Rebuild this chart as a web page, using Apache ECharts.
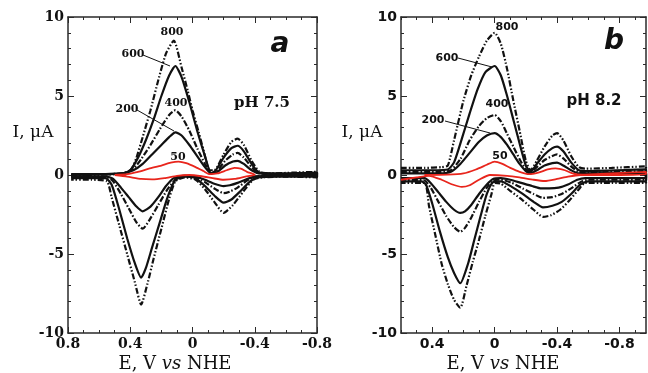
<!DOCTYPE html>
<html>
<head>
<meta charset="utf-8" />
<title>CV pH 7.5 / 8.2</title>
<script src="https://cdn.jsdelivr.net/npm/echarts@6/dist/echarts.min.js"></script>
</head>
<body style="margin:0">
<div id="main" style="width:648px;height:373px;"></div>
<script type="text/javascript">
// tick positions (V) and current ticks
var xMajorA = [0.8, 0.4, 0, -0.4, -0.8];
var xMinorA = [0.8, 0.7, 0.6, 0.5, 0.4, 0.3, 0.2, 0.1, 0, -0.1, -0.2, -0.3, -0.4, -0.5, -0.6, -0.7, -0.8];
var xMajorB = [0.4, 0, -0.4, -0.8];
var xMinorB = [0.6, 0.5, 0.4, 0.3, 0.2, 0.1, 0, -0.1, -0.2, -0.3, -0.4, -0.5, -0.6, -0.7, -0.8, -0.9];

// panel a, pH 7.5 : [E, I] loops, upper branch then return branch
var a800 = [[0.78,-0.05],[0.65,0.0],[0.5,0.05],[0.42,0.1],[0.39,0.4],[0.36,1.1],[0.32,2.4],[0.27,4.1],[0.22,6.0],[0.17,7.7],[0.12,8.5],[0.07,6.8],[0.03,5.3],[0.0,4.1],[-0.04,2.7],[-0.07,1.6],[-0.11,0.3],[-0.14,0.3],[-0.2,1.3],[-0.25,2.1],[-0.29,2.3],[-0.33,1.9],[-0.38,0.9],[-0.43,0.2],[-0.5,0.1],[-0.65,0.15],[-0.8,0.2],
  [-0.8,-0.15],[-0.6,-0.1],[-0.45,-0.15],[-0.39,-0.3],[-0.33,-1.0],[-0.26,-1.9],[-0.2,-2.4],[-0.14,-1.7],[-0.08,-0.9],[-0.02,-0.3],[0.05,-0.15],[0.11,-0.4],[0.15,-1.5],[0.2,-3.4],[0.25,-5.3],[0.29,-6.9],[0.33,-8.2],[0.37,-6.8],[0.42,-5.0],[0.47,-3.2],[0.52,-1.4],[0.55,-0.4],[0.65,-0.3],[0.78,-0.3]];
var a600 = [[0.78,0.0],[0.6,0.05],[0.45,0.1],[0.4,0.3],[0.35,1.1],[0.3,2.2],[0.25,3.5],[0.2,5.0],[0.15,6.3],[0.11,6.9],[0.07,6.2],[0.02,4.6],[-0.03,2.8],[-0.08,1.2],[-0.12,0.1],[-0.15,0.3],[-0.2,1.1],[-0.25,1.7],[-0.29,1.85],[-0.33,1.5],[-0.38,0.7],[-0.43,0.15],[-0.55,0.1],[-0.8,0.15],
  [-0.8,-0.1],[-0.55,-0.1],[-0.42,-0.15],[-0.37,-0.4],[-0.3,-1.1],[-0.25,-1.55],[-0.2,-1.75],[-0.14,-1.3],[-0.08,-0.7],[-0.02,-0.2],[0.05,-0.1],[0.11,-0.3],[0.16,-1.4],[0.21,-3.0],[0.26,-4.6],[0.3,-5.9],[0.33,-6.5],[0.37,-5.6],[0.42,-4.0],[0.47,-2.2],[0.52,-0.6],[0.56,-0.2],[0.78,-0.2]];
var a400 = [[0.78,0.0],[0.6,0.05],[0.45,0.1],[0.38,0.4],[0.33,1.0],[0.27,1.9],[0.21,2.9],[0.15,3.8],[0.11,4.1],[0.07,3.7],[0.02,2.8],[-0.03,1.7],[-0.08,0.7],[-0.12,0.1],[-0.16,0.3],[-0.21,0.9],[-0.26,1.3],[-0.29,1.4],[-0.33,1.1],[-0.38,0.5],[-0.43,0.1],[-0.55,0.05],[-0.8,0.1],
  [-0.8,-0.05],[-0.5,-0.05],[-0.4,-0.1],[-0.35,-0.35],[-0.29,-0.8],[-0.24,-1.05],[-0.2,-1.15],[-0.14,-0.85],[-0.08,-0.45],[-0.02,-0.15],[0.05,-0.05],[0.1,-0.2],[0.16,-0.9],[0.22,-1.9],[0.28,-2.9],[0.32,-3.4],[0.36,-3.0],[0.41,-2.1],[0.46,-1.2],[0.51,-0.4],[0.55,-0.15],[0.78,-0.15]];
var a200 = [[0.78,0.05],[0.6,0.05],[0.45,0.1],[0.38,0.3],[0.32,0.7],[0.26,1.3],[0.2,1.9],[0.15,2.4],[0.11,2.7],[0.07,2.5],[0.02,1.9],[-0.03,1.2],[-0.08,0.5],[-0.12,0.1],[-0.16,0.2],[-0.21,0.6],[-0.26,0.85],[-0.29,0.9],[-0.33,0.7],[-0.38,0.3],[-0.43,0.1],[-0.6,0.05],[-0.8,0.1],
  [-0.8,-0.05],[-0.5,-0.05],[-0.4,-0.1],[-0.35,-0.25],[-0.29,-0.5],[-0.24,-0.65],[-0.2,-0.7],[-0.14,-0.55],[-0.08,-0.3],[-0.02,-0.1],[0.06,-0.05],[0.12,-0.2],[0.17,-0.7],[0.22,-1.4],[0.27,-2.0],[0.32,-2.3],[0.36,-2.0],[0.41,-1.4],[0.46,-0.8],[0.51,-0.25],[0.55,-0.1],[0.78,-0.1]];
var a50 = [[0.5,0.0],[0.42,0.05],[0.35,0.2],[0.28,0.4],[0.2,0.6],[0.14,0.78],[0.09,0.85],[0.04,0.75],[-0.02,0.5],[-0.07,0.25],[-0.11,0.05],[-0.16,0.1],[-0.22,0.3],[-0.27,0.45],[-0.31,0.4],[-0.35,0.2],[-0.4,0.02],
  [-0.34,-0.1],[-0.27,-0.25],[-0.2,-0.3],[-0.13,-0.2],[-0.06,-0.08],[0.02,0.0],[0.1,-0.05],[0.18,-0.2],[0.26,-0.28],[0.33,-0.25],[0.42,-0.1],[0.5,0.0]];

// panel b, pH 8.2
var b800 = [[0.6,0.45],[0.45,0.45],[0.34,0.5],[0.3,0.6],[0.26,2.2],[0.2,4.7],[0.15,6.3],[0.1,7.5],[0.05,8.5],[0.0,9.0],[-0.04,8.3],[-0.08,6.7],[-0.12,4.7],[-0.16,2.8],[-0.2,0.9],[-0.23,0.3],[-0.27,0.9],[-0.32,1.8],[-0.37,2.5],[-0.4,2.65],[-0.44,2.2],[-0.49,1.2],[-0.54,0.5],[-0.58,0.4],[-0.75,0.45],[-0.97,0.55],
  [-0.97,-0.5],[-0.75,-0.5],[-0.58,-0.5],[-0.54,-0.9],[-0.48,-1.6],[-0.42,-2.2],[-0.36,-2.55],[-0.31,-2.65],[-0.25,-2.2],[-0.18,-1.6],[-0.1,-1.0],[-0.04,-0.55],[0.0,-0.5],[0.02,-1.2],[0.06,-2.6],[0.1,-4.1],[0.14,-5.5],[0.18,-7.0],[0.22,-8.4],[0.26,-7.9],[0.3,-6.9],[0.34,-5.6],[0.38,-3.8],[0.42,-2.0],[0.45,-0.5],[0.6,-0.5]];
var b600 = [[0.6,0.3],[0.4,0.3],[0.3,0.35],[0.26,0.8],[0.21,2.3],[0.16,3.9],[0.11,5.4],[0.06,6.5],[0.0,6.9],[-0.04,6.3],[-0.08,5.0],[-0.12,3.5],[-0.16,2.0],[-0.2,0.6],[-0.23,0.2],[-0.27,0.7],[-0.32,1.3],[-0.37,1.7],[-0.4,1.8],[-0.44,1.5],[-0.49,0.8],[-0.54,0.3],[-0.6,0.25],[-0.97,0.35],
  [-0.97,-0.4],[-0.6,-0.4],[-0.55,-0.6],[-0.49,-1.2],[-0.43,-1.7],[-0.37,-1.95],[-0.31,-2.05],[-0.25,-1.7],[-0.18,-1.2],[-0.11,-0.75],[-0.04,-0.4],[0.01,-0.45],[0.05,-1.2],[0.09,-2.6],[0.13,-4.1],[0.17,-5.6],[0.22,-6.85],[0.26,-6.2],[0.3,-5.2],[0.35,-3.6],[0.4,-1.8],[0.44,-0.6],[0.47,-0.4],[0.6,-0.4]];
var b400 = [[0.6,0.2],[0.35,0.2],[0.28,0.3],[0.22,1.0],[0.16,2.2],[0.1,3.1],[0.05,3.6],[0.0,3.8],[-0.04,3.4],[-0.08,2.6],[-0.12,1.8],[-0.16,1.0],[-0.2,0.35],[-0.23,0.15],[-0.27,0.5],[-0.32,0.95],[-0.37,1.2],[-0.4,1.3],[-0.44,1.05],[-0.49,0.55],[-0.54,0.2],[-0.6,0.15],[-0.97,0.25],
  [-0.97,-0.3],[-0.6,-0.3],[-0.55,-0.45],[-0.49,-0.85],[-0.43,-1.2],[-0.37,-1.4],[-0.31,-1.45],[-0.25,-1.2],[-0.18,-0.85],[-0.11,-0.5],[-0.04,-0.3],[0.01,-0.35],[0.05,-0.8],[0.1,-1.7],[0.15,-2.7],[0.19,-3.35],[0.22,-3.6],[0.26,-3.3],[0.31,-2.6],[0.36,-1.7],[0.41,-0.8],[0.45,-0.35],[0.6,-0.3]];
var b200 = [[0.6,0.1],[0.35,0.1],[0.28,0.2],[0.22,0.7],[0.16,1.4],[0.1,2.1],[0.05,2.5],[0.0,2.65],[-0.04,2.4],[-0.08,1.9],[-0.12,1.3],[-0.16,0.7],[-0.2,0.25],[-0.23,0.1],[-0.27,0.3],[-0.32,0.6],[-0.37,0.75],[-0.4,0.78],[-0.44,0.6],[-0.49,0.3],[-0.54,0.1],[-0.97,0.15],
  [-0.97,-0.2],[-0.58,-0.2],[-0.53,-0.3],[-0.47,-0.6],[-0.41,-0.8],[-0.35,-0.85],[-0.3,-0.85],[-0.24,-0.7],[-0.17,-0.5],[-0.1,-0.3],[-0.04,-0.2],[0.01,-0.25],[0.05,-0.6],[0.1,-1.2],[0.15,-1.9],[0.19,-2.3],[0.22,-2.4],[0.26,-2.2],[0.31,-1.7],[0.36,-1.1],[0.41,-0.5],[0.45,-0.2],[0.6,-0.2]];
var b50 = [[0.45,0.0],[0.3,0.02],[0.2,0.1],[0.12,0.35],[0.05,0.65],[0.0,0.85],[-0.05,0.7],[-0.1,0.45],[-0.16,0.2],[-0.22,0.05],[-0.28,0.15],[-0.34,0.35],[-0.39,0.42],[-0.45,0.3],[-0.5,0.1],[-0.56,0.02],[-0.75,0.1],[-0.97,0.2],
  [-0.97,0.05],[-0.75,0.0],[-0.55,0.0],[-0.47,-0.1],[-0.4,-0.25],[-0.32,-0.38],[-0.25,-0.3],[-0.16,-0.15],[-0.08,-0.05],[0.03,0.0],[0.1,-0.3],[0.16,-0.65],[0.21,-0.75],[0.27,-0.6],[0.34,-0.3],[0.42,-0.05],[0.5,-0.15],[0.6,-0.3]];

var myChart = echarts.init(document.getElementById('main'));

var SERIF = 'DejaVu Serif';
var SANS = 'DejaVu Sans';
var AX = '#2a2a2a';

function fmtE(v) {
    var r = Math.round(v * 10) / 10;
    return r === 0 ? '0' : String(r);
}

// four x axes per panel: bottom minor, bottom major (labels), top minor, top major
function xAxes(gi, min, max, majors, minors, font) {
    var base = { gridIndex: gi, type: 'value', inverse: true, min: min, max: max,
        splitLine: { show: false } };
    return [
        Object.assign({}, base, { position: 'bottom',
            axisLine: { show: true, onZero: false, lineStyle: { color: AX, width: 1.5 } },
            axisTick: { show: true, inside: true, length: 3, customValues: minors, lineStyle: { color: AX } },
            axisLabel: { show: false } }),
        Object.assign({}, base, { position: 'bottom',
            axisLine: { show: false, onZero: false },
            axisTick: { show: true, inside: true, length: 6, customValues: majors, lineStyle: { color: AX } },
            axisLabel: { show: true, customValues: majors, formatter: fmtE, margin: 4,
                color: '#111', fontFamily: font, fontWeight: 'bold', fontSize: 14 } }),
        Object.assign({}, base, { position: 'top',
            axisLine: { show: true, onZero: false, lineStyle: { color: AX, width: 1.5 } },
            axisTick: { show: true, inside: true, length: 3, customValues: minors, lineStyle: { color: AX } },
            axisLabel: { show: false } }),
        Object.assign({}, base, { position: 'top',
            axisLine: { show: false, onZero: false },
            axisTick: { show: true, inside: true, length: 6, customValues: majors, lineStyle: { color: AX } },
            axisLabel: { show: false } })
    ];
}

function yAxes(gi, font) {
    var base = { gridIndex: gi, type: 'value', min: -10, max: 10, interval: 5,
        splitLine: { show: false },
        axisLine: { show: true, onZero: false, lineStyle: { color: AX, width: 1.5 } },
        axisTick: { show: true, inside: true, length: 6, lineStyle: { color: AX } },
        minorTick: { show: true, splitNumber: 5, length: 3, lineStyle: { color: AX } } };
    return [
        Object.assign({}, base, { position: 'left',
            axisLabel: { show: true, margin: 4, color: '#111', fontFamily: font,
                fontWeight: 'bold', fontSize: 14 } }),
        Object.assign({}, base, { position: 'right', axisLabel: { show: false } })
    ];
}

var DASH3 = [6, 2, 1.5, 2, 1.5, 2];
var DASH2 = [6, 2, 1.5, 2];

function curve(data, xi, yi, type, color, width) {
    return { type: 'line', data: data, xAxisIndex: xi, yAxisIndex: yi,
        showSymbol: false, smooth: 0.2, silent: true,
        lineStyle: { color: color, width: width, type: type } };
}

function txt(x, y, text, font, size, weight, style, align) {
    return { type: 'text', x: x, y: y, silent: true,
        style: { text: text, fill: '#111', fontFamily: font, fontSize: size,
            fontWeight: weight || 'normal', fontStyle: style || 'normal',
            align: align || 'center', verticalAlign: 'middle' } };
}

function leader(x1, y1, x2, y2) {
    return { type: 'line', silent: true, shape: { x1: x1, y1: y1, x2: x2, y2: y2 },
        style: { stroke: '#111', lineWidth: 1 } };
}

function xTitle(cx) {
    return { type: 'text', x: cx, y: 364, silent: true,
        style: { text: '{n|E, V }{i|vs}{n| NHE}', align: 'center', verticalAlign: 'middle',
            rich: {
                n: { fontFamily: SERIF, fontSize: 18, fill: '#111' },
                i: { fontFamily: SERIF, fontSize: 18, fontStyle: 'italic', fill: '#111' }
            } } };
}

var option = {
    backgroundColor: '#fff',
    animation: false,
    grid: [
        { left: 68, top: 17, width: 249, height: 316 },
        { left: 401, top: 17, width: 245, height: 316 }
    ],
    xAxis: xAxes(0, -0.8, 0.8, xMajorA, xMinorA, SERIF).concat(xAxes(1, -0.97, 0.6, xMajorB, xMinorB, SANS)),
    yAxis: yAxes(0, SERIF).concat(yAxes(1, SANS)),
    series: [
        curve(a800, 1, 0, DASH3, '#111', 2.2),
        curve(a600, 1, 0, 'solid', '#111', 2.2),
        curve(a400, 1, 0, DASH2, '#111', 2.2),
        curve(a200, 1, 0, 'solid', '#111', 2.2),
        curve(a50, 1, 0, 'solid', '#e8251c', 1.8),
        curve(b800, 5, 2, DASH3, '#111', 2.2),
        curve(b600, 5, 2, 'solid', '#111', 2.2),
        curve(b400, 5, 2, DASH2, '#111', 2.2),
        curve(b200, 5, 2, 'solid', '#111', 2.2),
        curve(b50, 5, 2, 'solid', '#e8251c', 1.8)
    ],
    graphic: [
        xTitle(175), xTitle(503),
        txt(33, 133, 'I, μA', SERIF, 17),
        txt(362, 133, 'I, μA', SERIF, 17),
        txt(280, 45, 'a', SANS, 28, 'bold', 'italic'),
        txt(614, 42, 'b', SANS, 28, 'bold', 'italic'),
        txt(262, 103, 'pH 7.5', SERIF, 15, 'bold'),
        txt(594, 101, 'pH 8.2', SANS, 15, 'bold'),
        // scan rate labels, panel a
        txt(172, 32, '800', SERIF, 11, 'bold'),
        txt(133, 54, '600', SERIF, 11, 'bold'),
        txt(176, 103, '400', SERIF, 11, 'bold'),
        txt(127, 109, '200', SERIF, 11, 'bold'),
        txt(178, 157, '50', SERIF, 11, 'bold'),
        leader(143, 55, 170, 66),
        leader(137, 110, 174, 131),
        // scan rate labels, panel b
        txt(507, 27, '800', SANS, 11, 'bold'),
        txt(447, 58, '600', SANS, 11, 'bold'),
        txt(497, 104, '400', SANS, 11, 'bold'),
        txt(433, 120, '200', SANS, 11, 'bold'),
        txt(500, 156, '50', SANS, 11, 'bold'),
        leader(458, 58, 492, 67),
        leader(445, 121, 490, 133)
    ]
};

myChart.setOption(option);
</script>
</body>
</html>
